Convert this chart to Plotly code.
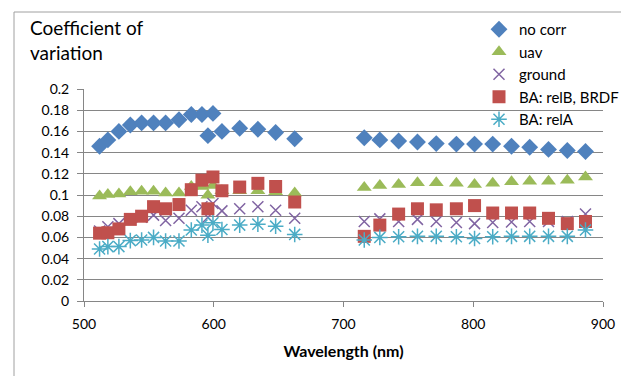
import plotly.graph_objects as go

# Wavelengths (nm)
wl = [512, 518.4, 526.9, 535.7, 544.4, 553.6, 562.9, 573.2, 582.7, 590.9, 595.5, 599.4, 606.3, 620, 634, 647.7, 662.4,
      716, 728, 742.5, 757, 771.5, 787, 801, 815, 829.5, 843.5, 858, 872.5, 886.5]

no_corr = [0.146, 0.152, 0.160, 0.166, 0.168, 0.168, 0.168, 0.171, 0.176, 0.176, 0.156, 0.177, 0.160, 0.163, 0.162, 0.159, 0.153,
           0.154, 0.152, 0.151, 0.150, 0.1485, 0.148, 0.148, 0.148, 0.146, 0.145, 0.143, 0.142, 0.141]
uav = [0.099, 0.1005, 0.101, 0.103, 0.1035, 0.1035, 0.102, 0.102, 0.108, 0.108, 0.0997, 0.109, 0.104, 0.104, 0.104, 0.103, 0.102,
       0.107, 0.109, 0.110, 0.1115, 0.1115, 0.111, 0.110, 0.111, 0.1125, 0.113, 0.113, 0.114, 0.117]
ground = [0.066, 0.070, 0.073, 0.077, 0.079, 0.081, 0.076, 0.078, 0.0856, 0.089, 0.079, 0.092, 0.085, 0.087, 0.089, 0.0856, 0.078,
          0.075, 0.0775, 0.075, 0.077, 0.075, 0.074, 0.073, 0.074, 0.0745, 0.075, 0.075, 0.075, 0.082]
rel_b = [0.064, 0.0644, 0.068, 0.077, 0.080, 0.089, 0.087, 0.091, 0.105, 0.114, 0.087, 0.117, 0.104, 0.1075, 0.111, 0.108, 0.0934,
         0.061, 0.0716, 0.082, 0.087, 0.086, 0.087, 0.090, 0.083, 0.083, 0.083, 0.078, 0.073, 0.075]
rel_a = [0.049, 0.0513, 0.0513, 0.057, 0.0575, 0.060, 0.0566, 0.0566, 0.067, 0.0716, 0.062, 0.0738, 0.0675, 0.0716, 0.0725, 0.0706, 0.0628,
         0.0575, 0.060, 0.0606, 0.061, 0.061, 0.0606, 0.059, 0.0606, 0.061, 0.061, 0.061, 0.061, 0.067]

y_ticks = [0, 0.02, 0.04, 0.06, 0.08, 0.1, 0.12, 0.14, 0.16, 0.18, 0.2]
y_labels = ["0", "0.02", "0.04", "0.06", "0.08", "0.1", "0.12", "0.14", "0.16", "0.18", "0.2"]
x_ticks = [500, 600, 700, 800, 900]

FONT = "Lato"

fig = go.Figure()
fig.add_trace(go.Scatter(x=wl, y=no_corr, mode="markers", name="no corr",
                         marker=dict(symbol="diamond", size=13, color="#4F81BD")))
fig.add_trace(go.Scatter(x=wl, y=uav, mode="markers", name="uav",
                         marker=dict(symbol="triangle-up", size=13, color="#9BBB59")))
fig.add_trace(go.Scatter(x=wl, y=ground, mode="markers", name="ground",
                         marker=dict(symbol="x-thin-open", size=11, color="#8064A2",
                                     line=dict(width=1.5, color="#8064A2"))))
fig.add_trace(go.Scatter(x=wl, y=rel_b, mode="markers", name="BA: relB, BRDF",
                         marker=dict(symbol="square", size=13, color="#C0504D")))
fig.add_trace(go.Scatter(x=wl, y=rel_a, mode="markers", name="BA: relA",
                         marker=dict(symbol="asterisk-open", size=13, color="#4BACC6",
                                     line=dict(width=1.5, color="#4BACC6"))))

# The page body has an 8px default margin: the figure is drawn 8px right/down.
OFF = 8
W, H = 629 - OFF, 376 - OFF
# plot area in screen pixels: x 84..603, y 88..301
L, R, T, B = 84 - OFF, 629 - 603, 89 - OFF, 376 - 301
pw = W - L - R
ph = H - T - B

def px_x(x):
    return (x - OFF - L) / pw

def px_y(y):
    return (H - B - (y - OFF)) / ph

fig.update_layout(
    width=W, height=H,
    margin=dict(l=L, r=R, t=T, b=B, autoexpand=False),
    paper_bgcolor="white", plot_bgcolor="white",
    font=dict(family=FONT, size=14, color="#000000"),
    showlegend=True,
    legend=dict(x=px_x(479), y=px_y(13), xanchor="left", yanchor="top",
                bgcolor="rgba(0,0,0,0)", font=dict(family=FONT, size=15),
                itemwidth=30, tracegroupgap=0),
    xaxis=dict(range=[500, 900], tickvals=x_ticks, showgrid=False, zeroline=False,
               showline=True, linecolor="#868686", linewidth=1,
               ticks="outside", ticklen=5, tickcolor="#868686", ticklabelstandoff=5,
               title=dict(text="<b>Wavelength (nm)</b>", font=dict(family=FONT, size=16), standoff=15),
               tickfont=dict(family=FONT, size=14)),
    yaxis=dict(range=[0, 0.2], tickvals=y_ticks, ticktext=y_labels, showgrid=True,
               gridcolor="#868686", gridwidth=1, zeroline=False,
               showline=True, linecolor="#868686", linewidth=1,
               ticks="outside", ticklen=6, tickcolor="#868686", ticklabelstandoff=5,
               tickfont=dict(family=FONT, size=14)),
    annotations=[dict(text="Coefficient of<br>variation", xref="paper", yref="paper",
                      x=px_x(28), y=px_y(14), xanchor="left", yanchor="top", align="left",
                      showarrow=False, font=dict(family=FONT, size=19))],
    shapes=[dict(type="rect", xref="paper", yref="paper",
                 x0=px_x(14), x1=px_x(625), y0=px_y(390), y1=px_y(12),
                 line=dict(color="#A0A0A0", width=1), layer="below")],
)

fig.write_html("out.html")
